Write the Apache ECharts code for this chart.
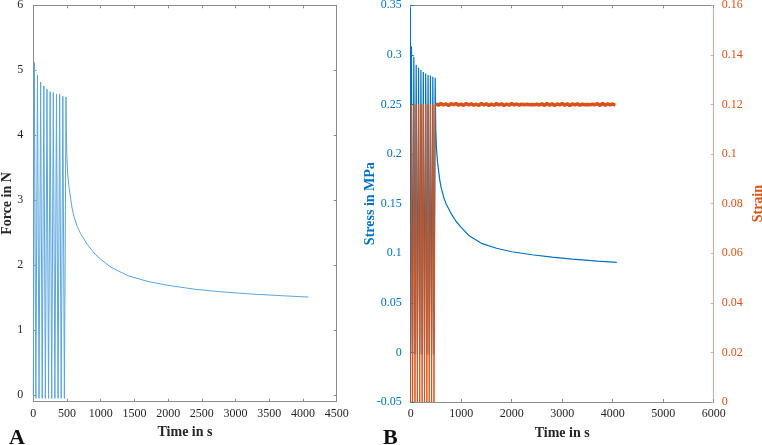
<!DOCTYPE html>
<html>
<head>
<meta charset="utf-8">
<script src="https://cdn.jsdelivr.net/npm/echarts@6/dist/echarts.min.js"></script>
<style>
html,body{margin:0;padding:0;background:#fff;}
#c{width:762px;height:445px;}
</style>
</head>
<body>
<div id="c"></div>
<script>
// ---- Data ----
// cyclic loading phase (both panels share timing)
var cycleStartT = 0;
var peakT   = [15, 62, 109, 156, 203, 250, 297, 344, 391, 438, 485];
var troughT = [38, 85, 132, 179, 226, 273, 320, 367, 414, 461];

// Panel A: force (N)
var forcePeaks   = [5.12, 4.93, 4.82, 4.76, 4.71, 4.67, 4.66, 4.63, 4.63, 4.60, 4.59];
var forceTroughs = [-0.05, -0.05, -0.05, -0.05, -0.05, -0.05, -0.05, -0.05, -0.05, -0.05];
var relaxT      = [490, 497, 510, 530, 550, 575, 600, 650, 700, 800, 900, 1000, 1150, 1400, 1700, 2000, 2400, 2800, 3200, 3330, 3345, 3360, 3700, 4080];
var forceRelax  = [4.10, 3.70, 3.40, 3.20, 3.05, 2.88, 2.76, 2.60, 2.49, 2.32, 2.19, 2.09, 1.97, 1.84, 1.75, 1.69, 1.63, 1.59, 1.56, 1.55, 1.57, 1.55, 1.53, 1.51];

// Panel B: stress (MPa)
var stressPeaks   = [0.3087, 0.298, 0.290, 0.287, 0.2847, 0.2827, 0.2813, 0.2797, 0.2793, 0.278, 0.277];
var stressTroughs = [-0.002, -0.002, -0.002, -0.002, -0.002, -0.002, -0.002, -0.002, -0.002, -0.002];
var stressRelax   = [0.250, 0.224, 0.206, 0.193, 0.184, 0.174, 0.167, 0.157, 0.150, 0.140, 0.132, 0.126, 0.118, 0.110, 0.105, 0.1015, 0.0985, 0.0960, 0.0940, 0.0935, 0.0945, 0.0935, 0.0920, 0.0908];

// Panel B: strain (-)
var strainPeaks   = [0.12, 0.12, 0.12, 0.12, 0.12, 0.12, 0.12, 0.12, 0.12, 0.12, 0.12];
var strainTroughs = [0, 0, 0, 0, 0, 0, 0, 0, 0, 0];
var plateauStart = 500, plateauStep = 50;
var strainPlateau = [
 0.1203,0.1197,0.1204,0.1198,0.1202,0.1196,0.1203,0.1199,0.1204,0.1197,
 0.1202,0.1196,0.1204,0.1198,0.1203,0.1197,0.1201,0.1196,0.1204,0.1198,
 0.1203,0.1196,0.1202,0.1197,0.1204,0.1198,0.1203,0.1196,0.1202,0.1197,
 0.1204,0.1198,0.1202,0.1197,0.1201,0.1199,0.1201,0.1199,0.1200,0.1199,
 0.1201,0.1198,0.1203,0.1196,0.1204,0.1197,0.1203,0.1196,0.1202,0.1198,
 0.1204,0.1197,0.1203,0.1196,0.1202,0.1198,0.1203,0.1197,0.1201,0.1199,
 0.1200,0.1199,0.1201,0.1199,0.1203,0.1196,0.1204,0.1197,0.1203,0.1198,
 0.1202,0.1197
];

// tick values
var forceTicks = [0, 1, 2, 3, 4, 5, 6];

// ---- build series data ----
function cyc(peaks, troughs, startVal) {
  var d = [[cycleStartT, startVal]];
  for (var i = 0; i < peakT.length; i++) {
    d.push([peakT[i], peaks[i]]);
    if (i < troughT.length) d.push([troughT[i], troughs[i]]);
  }
  return d;
}
var forceData = cyc(forcePeaks, forceTroughs, 0);
for (var i = 0; i < relaxT.length; i++) forceData.push([relaxT[i], forceRelax[i]]);
var stressData = cyc(stressPeaks, stressTroughs, 0);
for (var i = 0; i < relaxT.length; i++) stressData.push([relaxT[i], stressRelax[i]]);
var strainData = cyc(strainPeaks, strainTroughs, 0);
for (var i = 0; i < strainPlateau.length; i++) strainData.push([plateauStart + i * plateauStep, strainPlateau[i]]);

var FONT = 'Liberation Serif';
var axisGray = '#8c8c8c';
var blue = '#0072BD';
var orange = '#D95319';

function fmt(v) { return String(Math.round(v * 1000) / 1000); }
function plain(v) { return String(v); }

function xAx(grid, pos, max, step, withLabel) {
  var a = {gridIndex: grid, type: 'value', position: pos, min: 0, max: max, interval: step,
    axisLine: {show: true, onZero: false, lineStyle: {color: axisGray}},
    axisTick: {show: true, inside: true, length: 3, lineStyle: {color: axisGray}},
    axisLabel: {show: withLabel, margin: 6, fontFamily: FONT, fontSize: 12, color: '#262626', formatter: plain},
    splitLine: {show: false}};
  if (withLabel) {
    a.name = 'Time in s'; a.nameLocation = 'middle'; a.nameGap = 24; a.nameMoveOverlap = false;
    a.nameTextStyle = {fontFamily: FONT, fontWeight: 'bold', fontSize: 14, color: '#262626'};
  }
  return a;
}

var chart = echarts.init(document.getElementById('c'), null, {renderer: 'canvas'});
chart.setOption({
  animation: false,
  backgroundColor: '#fff',
  grid: [
    {left: 33.3, top: 5.3, width: 303.4, height: 396.4, outerBoundsMode: 'none', containLabel: false},
    {left: 410.7, top: 5.3, width: 303, height: 396.7, outerBoundsMode: 'none', containLabel: false}
  ],
  xAxis: [
    xAx(0, 'bottom', 4500, 500, true),
    xAx(0, 'top', 4500, 500, false),
    xAx(1, 'bottom', 6000, 1000, true),
    xAx(1, 'top', 6000, 1000, false)
  ],
  yAxis: [
    {gridIndex: 0, type: 'value', position: 'left', min: -0.1, max: 6,
     name: 'Force in N', nameLocation: 'middle', nameGap: 19, nameMoveOverlap: false,
     nameTextStyle: {fontFamily: FONT, fontWeight: 'bold', fontSize: 14, color: '#262626'},
     axisLine: {show: true, onZero: false, lineStyle: {color: axisGray}},
     axisTick: {show: true, inside: true, length: 3, customValues: forceTicks, lineStyle: {color: axisGray}},
     axisLabel: {margin: 10, fontFamily: FONT, fontSize: 12, color: '#262626', customValues: forceTicks},
     splitLine: {show: false}},
    {gridIndex: 0, type: 'value', position: 'right', min: -0.1, max: 6,
     axisLine: {show: true, onZero: false, lineStyle: {color: axisGray}},
     axisTick: {show: true, inside: true, length: 3, customValues: forceTicks, lineStyle: {color: axisGray}},
     axisLabel: {show: false, customValues: forceTicks}, splitLine: {show: false}},
    {gridIndex: 1, type: 'value', position: 'left', min: -0.05, max: 0.35, interval: 0.05,
     name: 'Stress in MPa', nameLocation: 'middle', nameGap: 33, nameMoveOverlap: false,
     nameTextStyle: {fontFamily: FONT, fontWeight: 'bold', fontSize: 14, color: blue},
     axisLine: {show: true, onZero: false, lineStyle: {color: blue}},
     axisTick: {show: true, inside: true, length: 3, lineStyle: {color: blue}},
     axisLabel: {margin: 9, fontFamily: FONT, fontSize: 12, color: blue, formatter: fmt},
     splitLine: {show: false}},
    {gridIndex: 1, type: 'value', position: 'right', min: 0, max: 0.16, interval: 0.02,
     name: 'Strain', nameLocation: 'middle', nameGap: 38, nameRotate: 90, nameMoveOverlap: false,
     nameTextStyle: {fontFamily: FONT, fontWeight: 'bold', fontSize: 14, color: orange},
     axisLine: {show: true, onZero: false, lineStyle: {color: '#d9ab98'}},
     axisTick: {show: true, inside: true, length: 3, lineStyle: {color: '#d9ab98'}},
     axisLabel: {margin: 8, fontFamily: FONT, fontSize: 12, color: orange, formatter: fmt},
     splitLine: {show: false}}
  ],
  series: [
    {type: 'line', xAxisIndex: 0, yAxisIndex: 0, data: forceData, showSymbol: false,
     lineStyle: {color: '#5aa6de', width: 1}, itemStyle: {color: '#5aa6de'}},
    {type: 'line', xAxisIndex: 2, yAxisIndex: 2, data: stressData, showSymbol: false,
     lineStyle: {color: blue, width: 1.2}, itemStyle: {color: blue}},
    {type: 'line', xAxisIndex: 2, yAxisIndex: 3, data: strainData, showSymbol: false,
     lineStyle: {color: orange, width: 1}, itemStyle: {color: orange}},
    {type: 'line', xAxisIndex: 2, yAxisIndex: 3, showSymbol: false, silent: true,
     data: strainData.slice(strainData.length - strainPlateau.length),
     lineStyle: {color: orange, width: 3.5}, itemStyle: {color: orange}}
  ],
  graphic: [
    {type: 'text', left: 9, top: 427, style: {text: 'A', font: 'bold 22px "Liberation Serif"', fill: '#111'}},
    {type: 'text', left: 383, top: 427, style: {text: 'B', font: 'bold 22px "Liberation Serif"', fill: '#111'}}
  ]
});
</script>
</body>
</html>
